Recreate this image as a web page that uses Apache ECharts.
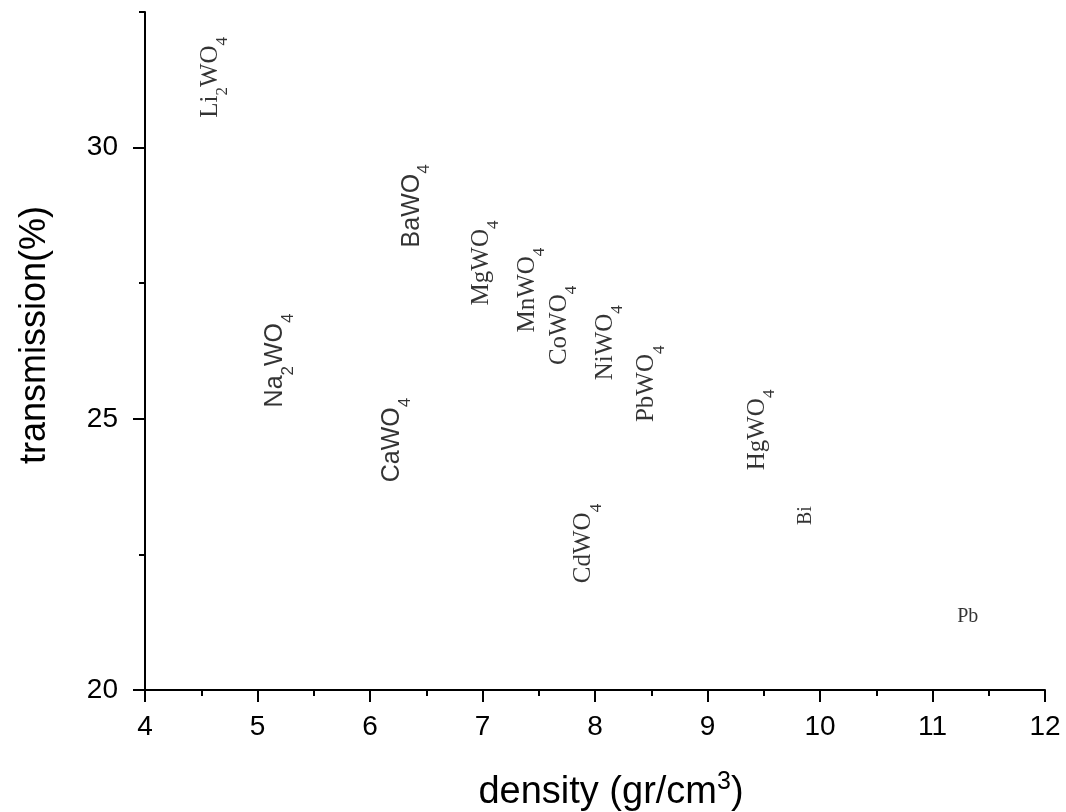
<!DOCTYPE html>
<html>
<head>
<meta charset="utf-8">
<script src="https://cdn.jsdelivr.net/npm/echarts@6/dist/echarts.min.js"></script>
<style>html,body{margin:0;padding:0;background:#fff}#c{width:1066px;height:812px}</style>
</head>
<body>
<div id="c"></div>
<script>
// Data
const compounds = ['Li2WO4','Na2WO4','CaWO4','BaWO4','MgWO4','MnWO4','CoWO4','NiWO4','PbWO4','CdWO4','HgWO4','Bi','Pb'];
const density = [4.58, 5.16, 6.20, 6.37, 6.99, 7.40, 7.68, 8.09, 8.46, 7.90, 9.44, 9.87, 11.22];
const transmission = [30.55, 25.21, 23.83, 28.16, 27.09, 26.59, 25.99, 25.71, 24.94, 21.97, 24.05, 23.04, 21.35];
const xTicks = [4,5,6,7,8,9,10,11,12];
const yTicks = [20,25,30];

// Style groups (not data)
const sansNames = ['Na2WO4','CaWO4','BaWO4'];
const smallNames = ['Bi','Pb'];
const horizontalNames = ['Pb'];

function richText(name, sans) {
  const m = sans ? 'ms' : 'mt';
  const s = sans ? 'ss' : 'st';
  const parts = name.match(/[A-Za-z]+|\d+/g);
  return parts.map(p => /\d/.test(p) ? '{' + s + '|' + p + '}' : '{' + m + '|' + p + '}').join('');
}

const LH = 42;
const rich = {
  mt: {fontFamily: 'Liberation Serif', fontSize: 25, color: '#000', lineHeight: LH},
  st: {fontFamily: 'Liberation Serif', fontSize: 17, color: '#000', verticalAlign: 'bottom', lineHeight: LH},
  ms: {fontFamily: 'Liberation Sans', fontSize: 25, color: '#000', lineHeight: LH},
  ss: {fontFamily: 'Liberation Sans', fontSize: 17, color: '#000', verticalAlign: 'bottom', lineHeight: LH},
  sm: {fontFamily: 'Liberation Serif', fontSize: 20, color: '#000'}
};

const points = compounds.map((n, i) => {
  const sans = sansNames.includes(n);
  const small = smallNames.includes(n);
  const horiz = horizontalNames.includes(n);
  return {
    name: n,
    value: [density[i], transmission[i]],
    label: {
      formatter: small ? '{sm|' + n + '}' : richText(n, sans),
      rotate: horiz ? 0 : 90,
      align: 'left',
      verticalAlign: 'middle'
    }
  };
});

const chart = echarts.init(document.getElementById('c'), null, {renderer: 'canvas'});
chart.setOption({
  animation: false,
  backgroundColor: '#fff',
  grid: {left: 145, right: 21, top: 12, bottom: 122, containLabel: false, outerBoundsMode: 'none'},
  xAxis: {
    type: 'value', min: 4, max: 12, interval: 1,
    name: '{n|density (gr/cm}{sup|3}{n|)}',
    nameLocation: 'middle', nameGap: 80,
    nameTextStyle: {fontFamily: 'Liberation Sans', fontSize: 38, color: '#000', padding: [0,0,0,32],
      rich: {
        n: {fontFamily: 'Liberation Sans', fontSize: 38, color: '#000', lineHeight: 46},
        sup: {fontFamily: 'Liberation Sans', fontSize: 25, color: '#000', verticalAlign: 'top', lineHeight: 46}
      }},
    axisLine: {lineStyle: {color: '#000', width: 2}},
    axisTick: {show: true, inside: false, length: 12, lineStyle: {color: '#000', width: 2}},
    minorTick: {show: true, splitNumber: 2, length: 6, lineStyle: {color: '#000', width: 2}},
    axisLabel: {fontFamily: 'Liberation Sans', fontSize: 28, color: '#000', margin: 23,
      formatter: v => xTicks.includes(v) ? String(v) : ''},
    splitLine: {show: false}
  },
  yAxis: [{
    type: 'value', min: 20, max: 32.5, interval: 5,
    name: 'transmission(%)',
    nameLocation: 'middle', nameGap: 92,
    nameTextStyle: {fontFamily: 'Liberation Sans', fontSize: 36, color: '#000', padding: [0,0,0,32]},
    axisLine: {show: true, lineStyle: {color: '#000', width: 2}},
    axisTick: {show: true, inside: false, length: 12, lineStyle: {color: '#000', width: 2}},
    axisLabel: {fontFamily: 'Liberation Sans', fontSize: 28, color: '#000', margin: 27, showMaxLabel: false,
      formatter: v => yTicks.includes(v) ? String(v) : ''},
    splitLine: {show: false}
  }, {
    type: 'value', min: 20, max: 32.5, interval: 2.5, position: 'left',
    axisLine: {show: false},
    axisTick: {show: true, inside: false, length: 6, lineStyle: {color: '#000', width: 2}},
    axisLabel: {show: false},
    splitLine: {show: false}
  }],
  series: [{
    type: 'scatter',
    yAxisIndex: 0,
    symbolSize: 0,
    data: points,
    label: {show: true, position: 'inside', rich: rich, color: '#000'},
    emphasis: {disabled: true}
  }]
});
</script>
</body>
</html>
